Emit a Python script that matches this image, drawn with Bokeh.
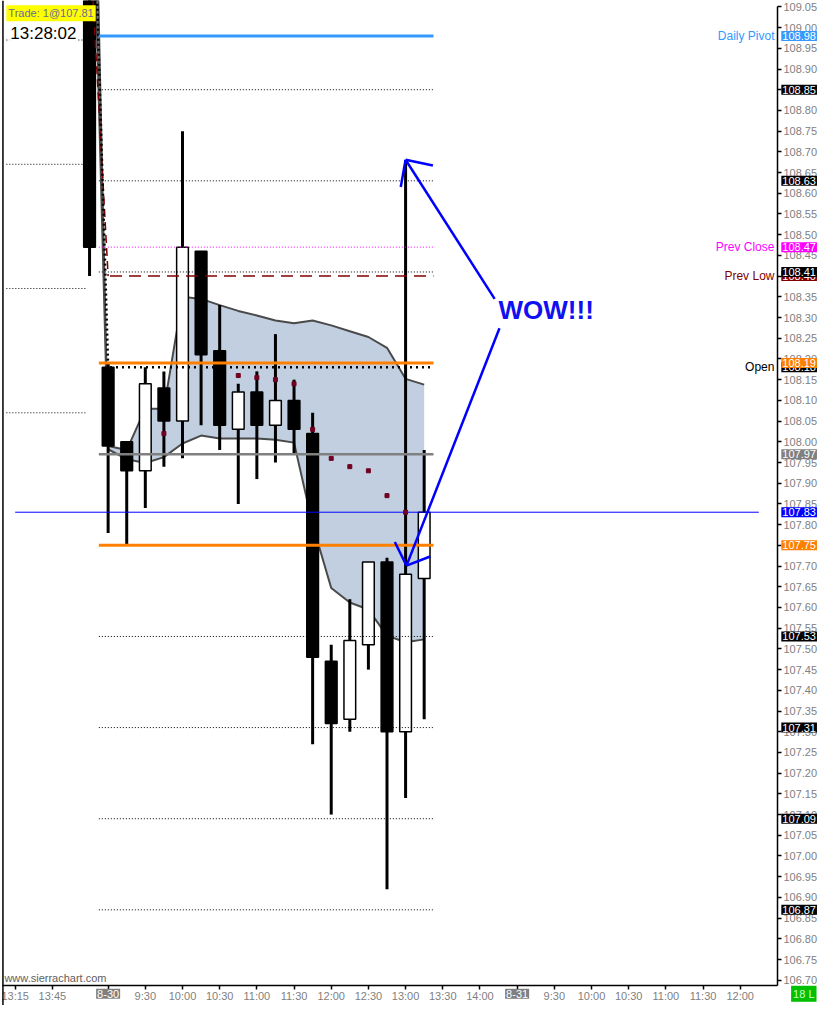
from bokeh.plotting import figure
from bokeh.models import (Label, FixedTicker, SingleIntervalTicker, PrintfTickFormatter, Range1d,
                          Span, LinearAxis)
from bokeh.embed import file_html
from bokeh.resources import INLINE

NaN = float("nan")
FONT = "Liberation Sans"

# ---------------- data ----------------
bars = [-1, 0, 1, 2, 3, 4, 5, 6, 7, 8, 9, 10, 11, 12, 13, 14, 15, 16, 17]
opens = [109.70, 108.18, 108.00, 107.93, 108.13, 108.05, 108.46, 108.22, 108.03, 108.12,
         108.04, 108.10, 108.02, 107.47, 107.33, 107.51, 107.71, 107.30, 107.67]
highs = [109.75, 108.19, 108.00, 108.18, 108.17, 108.75, 108.46, 108.33, 108.14, 108.17,
         108.26, 108.15, 108.07, 107.51, 107.62, 107.71, 107.72, 108.68, 107.98]
lows = [108.40, 107.78, 107.75, 107.84, 107.94, 107.96, 108.04, 107.98, 107.85, 107.91,
        107.95, 107.97, 107.27, 107.10, 107.30, 107.45, 106.92, 107.14, 107.33]
closes = [108.47, 107.99, 107.93, 108.14, 108.05, 108.47, 108.21, 108.04, 108.12, 108.04,
          108.10, 108.03, 107.48, 107.32, 107.52, 107.71, 107.30, 107.68, 107.83]

band_top = [110.04, 107.99, 107.98, 108.08, 108.08, 108.35, 108.345, 108.33, 108.316, 108.305,
            108.293, 108.286, 108.293, 108.281, 108.267, 108.253, 108.227, 108.152, 108.138]
band_bottom = [109.66, 107.982, 107.958, 107.949, 107.963, 107.996, 108.015, 108.008, 108.008, 108.008,
               108.005, 107.998, 107.80, 107.647, 107.612, 107.595, 107.532, 107.516, 107.523]

poc_dots = [NaN, NaN, NaN, NaN, 108.02, NaN, NaN, NaN, 108.16, 108.155,
            108.15, 108.14, 108.03, 107.96, 107.94, 107.93, 107.87, 107.83, NaN]

dev_open = [109.685, 108.18]      # developing open line at bars -1, 0
dev_prev_low = [109.22, 108.40]   # developing prev-low line at bars -1, 0

pivot = 108.98
dotted_levels = [108.85, 108.63, 108.41, 107.53, 107.31, 107.09, 106.87]
prev_close = 108.47
prev_low = 108.40
open_hi = 108.19
open_price = 108.18
mid_level = 107.97
low_level = 107.75
last_price = 107.83
prior_levels = [108.97, 108.67, 108.37, 108.07]

tag_values = [108.98, 108.85, 108.63, 108.47, 108.40, 108.41, 108.18, 108.19,
              107.97, 107.83, 107.75, 107.53, 107.31, 107.09, 106.87]

x_ticks = [-5, -3, 0, 2, 4, 6, 8, 10, 12, 14, 16, 18, 20, 22, 24, 26, 28, 30, 32, 34]
x_labels = ["13:15", "13:45", "8-30", "9:30", "10:00", "10:30", "11:00", "11:30", "12:00", "12:30",
            "13:00", "13:30", "14:00", "8-31", "9:30", "10:00", "10:30", "11:00", "11:30", "12:00"]
date_ticks = [0, 22]

# hand-drawn annotation (bar, price)
arrow_up = [(16.0, 108.681), (20.79, 108.345)]
arrow_up_head = [(17.47, 108.667), (15.74, 108.615)]
arrow_dn = [(21.05, 108.274), (16.05, 107.701)]
arrow_dn_head = [(15.42, 107.758), (17.32, 107.723)]

# ---------------- geometry helpers (reference pixel -> data) ----------------
def bx(px):
    return (px - 108.0) / 19.0

def py(pix):
    return 108.95 - (pix - 43.0) / 424.5

X0, X1 = bx(-2), bx(834)
Y0, Y1 = py(1024), py(-6)
AX_X = bx(792)      # price axis position
AX_Y = py(1003)     # time axis position

p = figure(width=818, height=1005, x_range=Range1d(X0, X1), y_range=Range1d(Y0, Y1),
           x_axis_location=None, y_axis_location=None,
           output_backend="svg", toolbar_location=None,
           min_border_left=0, min_border_top=0, min_border_right=0, min_border_bottom=0,
           background_fill_color="white", border_fill_color="white", outline_line_color=None)
p.xgrid.visible = False
p.ygrid.visible = False

yax = LinearAxis(fixed_location=AX_X, bounds=(AX_Y, py(0)),
                 ticker=SingleIntervalTicker(interval=0.05, num_minor_ticks=0),
                 formatter=PrintfTickFormatter(format="%.2f"),
                 major_tick_out=4, major_tick_in=0, minor_tick_line_color=None,
                 major_label_standoff=2, major_label_text_color="#808080",
                 major_label_text_font=FONT, major_label_text_font_size="11px",
                 axis_line_color="black", axis_line_width=1.5, major_tick_line_width=1.5)
p.add_layout(yax, "right")

xax = LinearAxis(fixed_location=AX_Y, bounds=(bx(0), AX_X),
                 ticker=FixedTicker(ticks=x_ticks),
                 major_label_overrides={t: ("" if t in date_ticks else l) for t, l in zip(x_ticks, x_labels)},
                 major_tick_out=4, major_tick_in=0, minor_tick_line_color=None,
                 major_label_standoff=1, major_label_text_color="#808080",
                 major_label_text_font=FONT, major_label_text_font_size="11px",
                 axis_line_color="black", axis_line_width=1.5, major_tick_line_width=1.5)
p.add_layout(xax, "below")

p.add_layout(Span(location=bx(0.5), dimension="height", line_color="black", line_width=1.5))

# band
p.varea(x=bars, y1=band_bottom, y2=band_top, fill_color="#c1cfe0")
p.line(bars, band_top, line_color="#4a4a4a", line_width=2)
p.line(bars, band_bottom, line_color="#4a4a4a", line_width=2)

# prior-session dotted levels
for v in prior_levels:
    p.segment(x0=[bx(4)], y0=[v], x1=[bx(85)], y1=[v], line_color="black", line_width=1, line_dash="1 2")

# candles
inc = [c >= o for o, c in zip(opens, closes)]
body_top = [max(o, c) for o, c in zip(opens, closes)]
body_bot = [min(o, c) for o, c in zip(opens, closes)]
fills = ["white" if i else "black" for i in inc]
p.segment(x0=bars, y0=lows, x1=bars, y1=highs, line_color="black", line_width=3)
p.vbar(x=bars, width=0.63, top=body_top, bottom=body_bot, fill_color=fills,
       line_color="black", line_width=1.5)

# developing lines at session start
p.line([-1, 0], dev_prev_low, line_color="#800000", line_width=1.5, line_dash="8 5")
p.line([-1, 0], dev_open, line_color="black", line_width=2.5, line_dash="2 3")

# session levels
S0, S1 = -0.5, 17.5
def hline(v, color, width, dash="solid", x0=S0, x1=S1):
    p.segment(x0=[x0], y0=[v], x1=[x1], y1=[v], line_color=color, line_width=width, line_dash=dash)

for v in dotted_levels:
    hline(v, "black", 1, "1 2")
hline(prev_close, "#ff00ff", 1, "1 2")
hline(prev_low, "#800000", 1.5, "12 7", x0=0.1)
hline(mid_level, "#808080", 2.5)
hline(pivot, "#3399ff", 3)
hline(open_hi, "#ff8000", 3)
hline(open_price, "black", 2.5, "2 4", x0=0.1)
hline(low_level, "#ff8000", 3)
hline(last_price, "#0000ff", 1, x0=-5.0, x1=35.0)

# dots
p.scatter(bars, poc_dots, marker="square", size=4, color="#700020")

# annotation arrows
for seg in (arrow_up, arrow_dn):
    p.line([q[0] for q in seg], [q[1] for q in seg], line_color="#0000ff", line_width=2.5)
for tip, head in ((arrow_up[0], arrow_up_head), (arrow_dn[1], arrow_dn_head)):
    for h in head:
        p.line([tip[0], h[0]], [tip[1], h[1]], line_color="#0000ff", line_width=2.5)

p.add_layout(Label(x=bx(507), y=py(311), text="WOW!!!", text_color="#1010f0", text_font=FONT,
                   text_font_size="26px", text_font_style="bold", text_baseline="middle", text_align="left"))

# texts
p.add_layout(Label(x=bx(4), y=py(7), text="Trade: 1@107.81", text_color="#6a6a9a",
                   text_font=FONT, text_font_size="11px", text_baseline="middle", text_align="left",
                   background_fill_color="#ffff00", padding=2))
p.add_layout(Label(x=bx(7), y=py(28), text="13:28:02", text_color="black",
                   text_font=FONT, text_font_size="17px", text_baseline="middle", text_align="left",
                   background_fill_color="white", padding=1))
p.add_layout(Label(x=bx(2), y=py(996), text="www.sierrachart.com", text_color="#606060",
                   text_font=FONT, text_font_size="11px", text_baseline="middle", text_align="left"))

for txt, v, col in (("Daily Pivot", pivot, "#3399ff"), ("Prev Close", prev_close, "#ff00ff"),
                    ("Prev Low", prev_low, "#800000"), ("Open", open_price, "black")):
    p.add_layout(Label(x=bx(789), y=v, text=txt, text_color=col, text_font=FONT, text_font_size="12px",
                       text_baseline="middle", text_align="right"))

tag_colors = {108.98: "#3399ff", 108.47: "#ff00ff", 108.40: "#800000", 108.19: "#ff8000",
              107.97: "#808080", 107.83: "#0000ff", 107.75: "#ff8000"}
for v in tag_values:
    p.add_layout(Label(x=bx(796), y=v, text=f"{v:.2f}", text_color="white", text_font=FONT,
                       text_font_size="11px", text_baseline="middle", text_align="left",
                       background_fill_color=tag_colors.get(v, "black"), padding=1))

# date boxes on time axis
for t in date_ticks:
    p.add_layout(Label(x=t, y=py(1012), text=x_labels[x_ticks.index(t)], text_color="white",
                       text_font=FONT, text_font_size="11px", text_baseline="middle", text_align="center",
                       background_fill_color="#808080", padding=1))
p.add_layout(Label(x=bx(806), y=py(1012), text="18 L", text_color="#c8ffc8",
                   text_font=FONT, text_font_size="11px", text_baseline="middle", text_align="left",
                   background_fill_color="#00c000", padding=2))

open("out.html", "w").write(file_html(p, INLINE))
